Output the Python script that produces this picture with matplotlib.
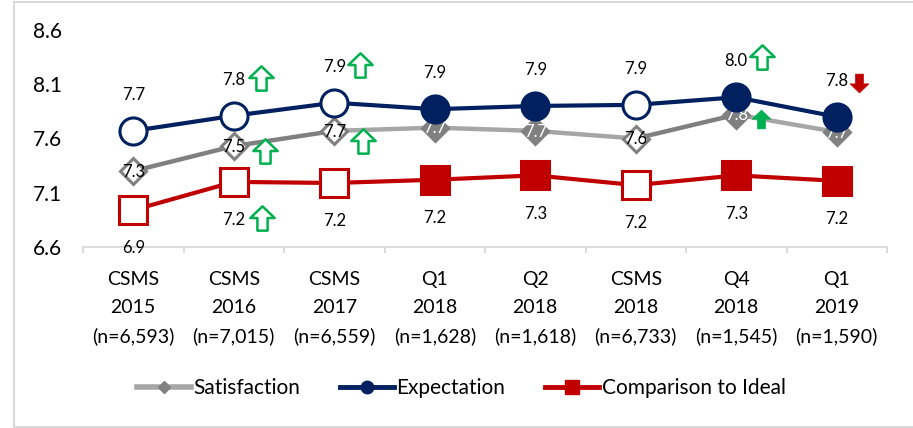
import numpy as np
import matplotlib
matplotlib.use('Agg')
import matplotlib.pyplot as plt
from matplotlib.lines import Line2D
from matplotlib.path import Path
from matplotlib.transforms import offset_copy

plt.rcParams['font.family'] = ['Lato', 'DejaVu Sans']

# survey waves along the x axis
waves = ['CSMS\n2015', 'CSMS\n2016', 'CSMS\n2017', 'Q1\n2018',
         'Q2\n2018', 'CSMS\n2018', 'Q4\n2018', 'Q1\n2019']
sample_sizes = ['6,593', '7,015', '6,559', '1,628', '1,618', '6,733', '1,545', '1,590']

# index scores per wave
satisfaction = [7.30, 7.53, 7.67, 7.70, 7.67, 7.60, 7.82, 7.66]
expectation = [7.67, 7.81, 7.93, 7.87, 7.90, 7.91, 7.98, 7.80]
comparison = [6.94, 7.20, 7.19, 7.22, 7.26, 7.17, 7.26, 7.21]

# annual CSMS waves get hollow markers, quarterly waves filled ones
is_annual = [True, True, True, False, False, True, False, False]
# satisfaction line segments drawn in the darker grey
sat_dark_segment = [True, True, False, False, False, True, False]

y_ticks = [6.6, 7.1, 7.6, 8.1, 8.6]

NAVY = '#002060'
RED = '#c00000'
GREY_DARK = '#808080'
GREY_LIGHT = '#a6a6a6'
GREEN = '#00b050'

fig = plt.figure(figsize=(9.13, 4.28), dpi=100)
ax = fig.add_axes([83 / 913, 1 - 247 / 428, (887 - 83) / 913, (247 - 30) / 428])
x = np.arange(len(waves))

# satisfaction: segment colours vary
for i in range(len(x) - 1):
    col = GREY_DARK if sat_dark_segment[i] else GREY_LIGHT
    ax.plot(x[i:i + 2], satisfaction[i:i + 2], color=col, lw=3.2,
            solid_capstyle='butt', zorder=2)
for i, v in enumerate(satisfaction):
    face = 'white' if is_annual[i] else GREY_DARK
    ax.plot(i, v, marker='D', ms=13, mfc=face, mec=GREY_DARK, mew=2.2, zorder=3)

# expectation and comparison to ideal
ax.plot(x, expectation, color=NAVY, lw=3, zorder=5)
ax.plot(x, comparison, color=RED, lw=3, zorder=5)
for i in x:
    ax.plot(i, expectation[i], marker='o', ms=19.5,
            mfc='white' if is_annual[i] else NAVY, mec=NAVY, mew=2.2, zorder=6)
    ax.plot(i, comparison[i], marker='s', ms=19.5,
            mfc='white' if is_annual[i] else RED, mec=RED, mew=2.2, zorder=6)

# value labels
for i in x:
    ax.annotate(f'{expectation[i]:.1f}', (i, expectation[i]), xytext=(0, 26),
                textcoords='offset points', ha='center', va='center',
                fontsize=12, color='black', zorder=7)
    ax.annotate(f'{comparison[i]:.1f}', (i, comparison[i]), xytext=(0, -27.5),
                textcoords='offset points', ha='center', va='center',
                fontsize=12, color='black', zorder=7)
    ax.annotate(f'{satisfaction[i]:.1f}', (i, satisfaction[i]), xytext=(0, -0.5),
                textcoords='offset points', ha='center', va='center',
                fontsize=12, color='black' if is_annual[i] else 'white', zorder=4)


def block_arrow(up=True):
    verts = np.array([(-0.21, -0.5), (0.21, -0.5), (0.21, 0.02), (0.5, 0.02),
                      (0.0, 0.5), (-0.5, 0.02), (-0.21, 0.02), (-0.21, -0.5)])
    if not up:
        verts[:, 1] *= -1
    codes = [Path.MOVETO] + [Path.LINETO] * 6 + [Path.CLOSEPOLY]
    return Path(verts, codes)


# change indicators: (series, wave, up, hollow, colour, dx, dy) offsets in px
arrows = [
    (expectation, 1, True, True, GREEN, 27, 38),
    (expectation, 2, True, True, GREEN, 26, 38),
    (expectation, 6, True, True, GREEN, 26, 40),
    (expectation, 7, False, False, RED, 22, 34),
    (satisfaction, 1, True, True, GREEN, 31, -5),
    (satisfaction, 2, True, True, GREEN, 29, -10),
    (satisfaction, 6, True, False, GREEN, 25, -4),
    (comparison, 1, True, True, GREEN, 28, -36),
]
for series, i, up, hollow, col, dx, dy in arrows:
    trans = offset_copy(ax.transData, fig=fig, x=dx * 0.72, y=dy * 0.72, units='points')
    if hollow:
        ax.plot(i, series[i], marker=block_arrow(up), ms=17.5, mfc='white', mec=col,
                mew=1.8, transform=trans, zorder=8, clip_on=False)
    else:
        ax.plot(i, series[i], marker=block_arrow(up), ms=13.5, mfc=col, mec=col,
                mew=0.5, transform=trans, zorder=8, clip_on=False)

ax.set_xlim(-0.5, len(waves) - 0.5)
ax.set_ylim(6.6, 8.6)
ax.set_yticks(y_ticks)
ax.set_yticklabels([f'{t:.1f}' for t in y_ticks], fontsize=15)
ax.tick_params(axis='y', length=0, pad=15)

ax.set_xticks(x)
ax.set_xticklabels([f'{w}\n(n={n})' for w, n in zip(waves, sample_sizes)],
                   fontsize=14, linespacing=1.8)
ax.tick_params(axis='x', which='major', length=0, pad=17)
ax.set_xticks(np.arange(-0.5, len(waves), 1), minor=True)
ax.tick_params(axis='x', which='minor', length=4.5, width=1.3, color='#d9d9d9')

for side in ['left', 'right', 'top']:
    ax.spines[side].set_visible(False)
ax.spines['bottom'].set_color('#d9d9d9')
ax.spines['bottom'].set_linewidth(1.3)

handles = [
    Line2D([], [], color=GREY_LIGHT, lw=4, marker='D', ms=6, mfc=GREY_DARK, mec=GREY_DARK),
    Line2D([], [], color=NAVY, lw=3.5, marker='o', ms=9, mfc=NAVY, mec=NAVY),
    Line2D([], [], color=RED, lw=3.5, marker='s', ms=10, mfc=RED, mec=RED),
]
fig.legend(handles, ['Satisfaction', 'Expectation', 'Comparison to Ideal'],
           loc='center', bbox_to_anchor=(0.505, 1 - 388 / 428), ncol=3,
           frameon=False, fontsize=15, handlelength=2.6, handletextpad=0.12,
           columnspacing=1.9)

# chart frame
frame = dict(color='#d9d9d9', lw=1.5, transform=fig.transFigure)
fig.add_artist(Line2D([13.5 / 913, 13.5 / 913], [0.003, 0.996], **frame))
fig.add_artist(Line2D([13.5 / 913, 1], [0.996, 0.996], **frame))
fig.add_artist(Line2D([13.5 / 913, 1], [0.003, 0.003], **frame))

fig.savefig('out.png', dpi=100)
